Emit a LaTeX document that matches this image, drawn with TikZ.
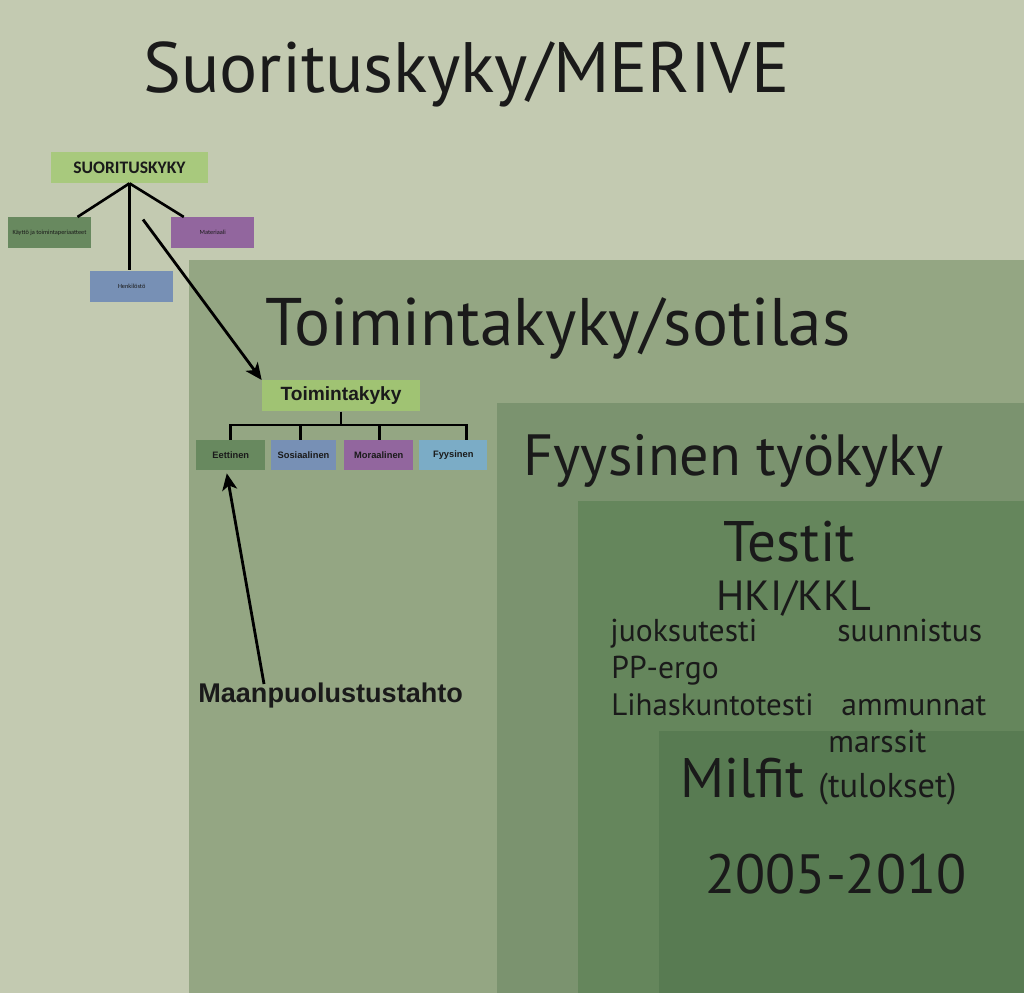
\documentclass[tikz,border=0pt]{standalone}
\usepackage{fontspec}
\setmainfont{PT Sans}
\newfontfamily\arialfont{Liberation Sans}
\newfontfamily\califont{Carlito}
\usepackage{tikz}
\usetikzlibrary{arrows.meta,calc}
\definecolor{bg}{RGB}{195,202,177}
\definecolor{lvA}{RGB}{148,166,131}
\definecolor{lvB}{RGB}{123,147,111}
\definecolor{lvC}{RGB}{101,134,92}
\definecolor{lvD}{RGB}{88,123,82}
\definecolor{lgreen}{RGB}{168,201,125}
\definecolor{mgreen}{RGB}{160,195,115}
\definecolor{dgreen}{RGB}{104,137,95}
\definecolor{purp}{RGB}{146,102,158}
\definecolor{blu}{RGB}{119,144,181}
\definecolor{lblu}{RGB}{123,172,198}
\definecolor{ink}{RGB}{26,26,26}
\newcommand{\fsz}[1]{\fontsize{#1}{#1}\selectfont}
\begin{document}
\begin{tikzpicture}[x=0.02cm, y=-0.02cm, inner sep=0pt, text=ink,
    sbox/.style={minimum width=1.66cm, minimum height=0.62cm, font=\califont\fsz{3.6pt}},
    cbox/.style={minimum width=1.38cm, minimum height=0.6cm, font=\arialfont\bfseries\fsz{5.3pt}},
    big/.style={anchor=base west},
    link/.style={line width=1.5pt},
    arr/.style={line width=1.6pt, -{Stealth[length=9.5pt,width=8.5pt,inset=2.5pt]}}]

    \fill[bg] (0,0) rectangle (1024,993);
    \useasboundingbox (0,0) rectangle (1024,993);

    % nested areas
    \fill[lvA] (189,260) rectangle (1024,993);
    \fill[lvB] (497,403) rectangle (1024,993);
    \fill[lvC] (578,501) rectangle (1024,993);
    \fill[lvD] (659,731) rectangle (1024,993);

    \node[big] (t1) at (143,93) {\fsz{40.6pt}Suorituskyky/MERIVE};
    \node[big] (t2) at (265,345) {\fsz{38.3pt}Toimintakyky/sotilas};
    \node[big] (t3) at (523,475) {\fsz{33.1pt}Fyysinen työkyky};
    \node[big] (t4) at (723,561) {\fsz{32.5pt}Testit};
    \node[big] (t5) at (716,610) {\fsz{24pt}HKI/KKL};
    \node[big] (t6) at (610,641) {\fsz{18pt}juoksutesti};
    \node[big] (t7) at (837,641) {\fsz{18pt}suunnistus};
    \node[big] (t8) at (611,678) {\fsz{18pt}PP-ergo};
    \node[big] (t9) at (611,715) {\fsz{17.6pt}Lihaskuntotesti};
    \node[big] (t10) at (841,715) {\fsz{18pt}ammunnat};
    \node[big] (t11) at (828,752) {\fsz{18pt}marssit};
    \node[big] (t12) at (680,797) {\fsz{31.7pt}Milfit};
    \node[big] (t13) at (818,797) {\fsz{19.6pt}(tulokset)};
    \node[big] (t14) at (705,893) {\fsz{31.5pt}2005-2010};

    % SUORITUSKYKY tree
    \node[fill=lgreen, minimum width=3.14cm, minimum height=0.62cm, font=\califont\bfseries\fsz{10pt}] (a) at (129.5,167.5) {SUORITUSKYKY};
    \node[sbox, fill=dgreen] (b) at (49.5,232.8) {Käyttö ja toimintaperiaatteet};
    \node[sbox, fill=purp] (c) at (212.8,232.8) {Materiaali};
    \node[sbox, fill=blu] (d) at (131.7,286.2) {Henkilöstö};

    \draw [link] (a.south) -- ($(b.north)+(28,0)$);
    \draw [link] (a.south) -- (a.south |- d.north);
    \draw [link] (a.south) -- ($(c.north)+(-29,0)$);

    % Toimintakyky tree
    \node[fill=mgreen, minimum width=3.16cm, minimum height=0.62cm, font=\arialfont\bfseries\fsz{10.9pt}] (e) at (341,395.8) {Toimintakyky};
    \node[cbox, fill=dgreen] (f) at (230.8,455) {Eettinen};
    \node[cbox, fill=blu, minimum width=1.3cm] (g) at (303.5,455) {Sosiaalinen};
    \node[cbox, fill=purp] (h) at (378.8,455) {Moraalinen};
    \node[cbox, fill=lblu, minimum width=1.36cm] (i) at (453.3,455) {Fyysinen};

    \coordinate (j) at (341,425);
    \draw [link] (e.south) -- (j);
    \draw [link] (f.north) |- (j) -| ($(i.north)+(13,0)$);
    \draw [link] ($(g.north)+(-3,0)$) -- ($(g.north |- j)+(-3,0)$);
    \draw [link] ($(h.north)+(1,0)$) -- ($(h.north |- j)+(1,0)$);

    % arrows
    \coordinate (m) at (143,219.5);
    \draw [arr] (m) -- (e.north west);

    \node[big, font=\arialfont\bfseries\fsz{15.4pt}] (l) at (198,702.5) {Maanpuolustustahto};
    \coordinate (k) at (264,684);
    \draw [arr] (k) -- ($(f.south)+(-4,3)$);

\end{tikzpicture}
\end{document}
